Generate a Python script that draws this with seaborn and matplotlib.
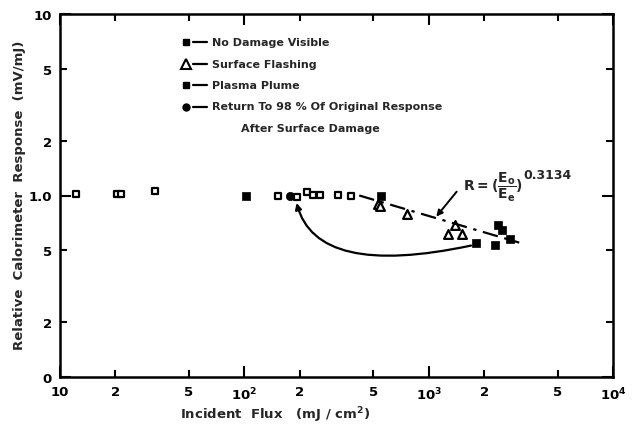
import numpy as np
import pandas as pd
import matplotlib
matplotlib.use("Agg")
import matplotlib.pyplot as plt
import seaborn as sns
from matplotlib.ticker import FixedLocator, FixedFormatter

# ---- data ----
no_damage_x = [12.2, 20.5, 21.5, 32.7, 152, 194, 218, 236, 258, 324, 378]
no_damage_y = [1.02, 1.02, 1.02, 1.065, 1.0, 0.98, 1.04, 1.01, 1.01, 1.01, 1.0]

flashing_x = [532, 545, 766, 1390, 1280, 1524]
flashing_y = [0.90, 0.88, 0.795, 0.687, 0.616, 0.616]

plume_x = [102, 552, 2390, 2490, 2770, 1800, 2290]
plume_y = [1.0, 0.99, 0.684, 0.643, 0.574, 0.544, 0.533]

recovery_x = [177]
recovery_y = [0.99]

fit_x = [420, 3100]
fit_y = [1.0, 0.55]

x_ticks = [10, 100, 1000, 10000]
x_tick_labels = ["10", "10$^2$", "10$^3$", "10$^4$"]
x_minor = [20, 50, 200, 500, 2000, 5000]
x_minor_labels = ["2", "5", "2", "5", "2", "5"]
y_ticks = [0.1, 1.0, 10]
y_tick_labels = ["0", "1.0", "10"]
y_minor = [0.2, 0.5, 2, 5]
y_minor_labels = ["2", "5", "2", "5"]

legend_labels = ["No Damage Visible", "Surface Flashing", "Plasma Plume",
                 "Return To 98 % Of Original Response"]

# ---- style ----
sns.set_style("ticks")
plt.rcParams['font.family'] = ['DejaVu Sans']
plt.rcParams['font.weight'] = 'bold'
plt.rcParams['mathtext.fontset'] = 'dejavusans'
plt.rcParams['mathtext.default'] = 'bf'

W, H = 632, 431
fig = plt.figure(figsize=(W / 100, H / 100), dpi=100)
L, R, T, B = 60, 613, 15, 378
ax = fig.add_axes([L / W, 1 - B / H, (R - L) / W, (B - T) / H])
ax.set_xscale('log')
ax.set_yscale('log')

nd = pd.DataFrame({"x": no_damage_x, "y": no_damage_y})
fl = pd.DataFrame({"x": flashing_x, "y": flashing_y})
pl = pd.DataFrame({"x": plume_x, "y": plume_y})
rc = pd.DataFrame({"x": recovery_x, "y": recovery_y})
fit = pd.DataFrame({"x": fit_x, "y": fit_y})

sns.lineplot(data=fit, x="x", y="y", ax=ax, color="black", lw=1.6,
             linestyle=(0, (7, 3, 1.5, 3)))
sns.scatterplot(data=nd, x="x", y="y", ax=ax, marker="s", s=20,
                facecolor="white", edgecolor="black", linewidth=1.6)
sns.scatterplot(data=fl, x="x", y="y", ax=ax, marker="^", s=40,
                facecolor="white", edgecolor="black", linewidth=1.6)
sns.scatterplot(data=pl, x="x", y="y", ax=ax, marker="s", s=28,
                color="black", edgecolor="black", linewidth=0.5)
sns.scatterplot(data=rc, x="x", y="y", ax=ax, marker="o", s=36,
                color="black", edgecolor="black", linewidth=0.5)

ax.set_xlim(10, 1e4)
ax.set_ylim(0.1, 10)

# ticks
ax.xaxis.set_major_locator(FixedLocator(x_ticks))
ax.xaxis.set_major_formatter(FixedFormatter(x_tick_labels))
ax.xaxis.set_minor_locator(FixedLocator(x_minor))
ax.xaxis.set_minor_formatter(FixedFormatter(x_minor_labels))
ax.yaxis.set_major_locator(FixedLocator(y_ticks))
ax.yaxis.set_major_formatter(FixedFormatter(y_tick_labels))
ax.yaxis.set_minor_locator(FixedLocator(y_minor))
ax.yaxis.set_minor_formatter(FixedFormatter(y_minor_labels))
ax.tick_params(which='both', direction='in', top=True, right=True,
               labelsize=9.5, width=1.5, colors='black')
ax.tick_params(which='major', length=8, pad=6)
ax.tick_params(which='minor', length=5, pad=6)
for lab in ax.get_xticklabels(which='both') + ax.get_yticklabels(which='both'):
    lab.set_fontweight('bold')
for s in ax.spines.values():
    s.set_linewidth(1.8)
    s.set_color('black')
    s.set_visible(True)

ax.set_xlabel("")
ax.set_ylabel("")
fig.text(275 / W, 1 - 415 / H, "Incident  Flux   (mJ / cm$^{2}$)",
         ha='center', va='center', fontsize=9.5, fontweight='bold')
fig.text(20 / W, 1 - 195 / H, "Relative  Calorimeter  Response  (mV/mJ)",
         ha='center', va='center', rotation=90, fontsize=9.5, fontweight='bold')

# manual legend
def fx(px):
    return (px - L) / (R - L)

def fy(py):
    return (B - py) / (B - T)

rows = [43, 64.5, 86, 107.5]
styles = [dict(marker='s', ms=4.5, mfc='black', mec='black'),
          dict(marker='^', ms=6.5, mfc='white', mec='black', mew=1.5),
          dict(marker='s', ms=4.5, mfc='black', mec='black'),
          dict(marker='o', ms=5, mfc='black', mec='black')]
for py, st, lab in zip(rows, styles, legend_labels):
    ax.plot([fx(186)], [fy(py)], transform=ax.transAxes, ls='none',
            clip_on=False, **st)
    ax.plot([fx(193), fx(207)], [fy(py), fy(py)], transform=ax.transAxes,
            color='black', lw=1.6)
    ax.text(fx(212), fy(py), lab, transform=ax.transAxes, ha='left',
            va='center', fontsize=8, fontweight='bold')
ax.text(fx(241), fy(129), "After Surface Damage", transform=ax.transAxes,
        ha='left', va='center', fontsize=8, fontweight='bold')

# formula annotation
ax.text(1540, 1.12, r"$R = (\dfrac{E_o}{E_e})$", ha='left',
        va='center', fontsize=10)
ax.text(3250, 1.30, "0.3134", ha='left', va='center', fontsize=9,
        fontweight='bold')
ax.annotate("", xy=(1100, 0.765), xytext=(1419, 1.05),
            arrowprops=dict(arrowstyle='-|>', color='black', lw=1.4,
                            mutation_scale=9, shrinkA=0, shrinkB=0))

# curved recovery arrow
ax.annotate("", xy=(192, 0.91), xytext=(1700, 0.53),
            arrowprops=dict(arrowstyle='-|>', color='black', lw=1.6,
                            mutation_scale=9, shrinkA=0, shrinkB=0,
                            connectionstyle='angle3,angleA=12,angleB=-75'))

fig.savefig("out.png", dpi=100)
